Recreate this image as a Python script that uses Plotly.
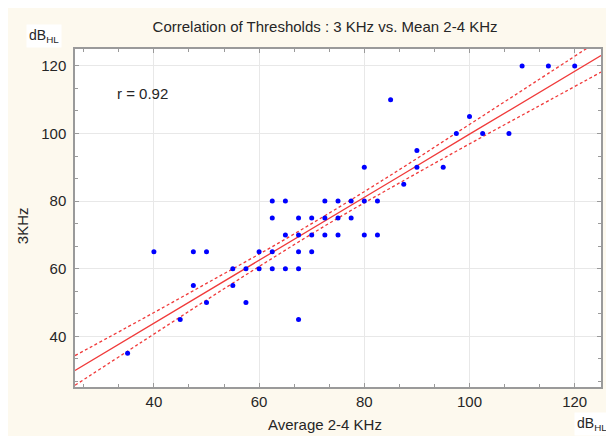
import plotly.graph_objects as go

# Data
avg_2_4khz = [35, 40, 45, 47.5, 47.5, 50, 50, 55, 55, 57.5, 57.5, 60, 60,
              62.5, 62.5, 62.5, 62.5, 65, 65, 65,
              67.5, 67.5, 67.5, 67.5, 67.5, 70, 70, 70,
              72.5, 72.5, 72.5, 75, 75, 75, 77.5, 77.5,
              80, 80, 80, 82.5, 82.5,
              85, 87.5, 90, 90, 95, 97.5, 100, 102.5, 107.5, 110, 115, 120]
thr_3khz = [35, 65, 45, 65, 55, 65, 50, 60, 55, 60, 50, 65, 60,
            80, 75, 65, 60, 80, 70, 60,
            75, 70, 65, 60, 45, 75, 70, 65,
            80, 75, 70, 80, 75, 70, 80, 75,
            90, 80, 70, 80, 70,
            110, 85, 95, 90, 90, 100, 105, 100, 100, 120, 120, 120]

# Regression line and 95% confidence band
fit_x = [25, 37.5, 50, 62.5, 75, 87.5, 100, 112.5, 125]
fit_y = [29.9, 41.5, 53.2, 64.8, 76.5, 88.1, 99.8, 111.4, 123.05]
band_half = [4.39, 3.38, 2.45, 1.72, 1.52, 2.02, 2.88, 3.86, 4.89]

x_ticks = [40, 60, 80, 100, 120]
y_ticks = [40, 60, 80, 100, 120]
axis_range = [25, 125]
r_label = "r = 0.92"

band_upper = [c + h for c, h in zip(fit_y, band_half)]
band_lower = [c - h for c, h in zip(fit_y, band_half)]

# page is offset by the 8px body margin
OFF = 8
W, H = 614 - OFF, 436 - OFF
L, R, T, B = 67, 11, 41, 49
pw, ph = W - L - R, H - T - B

def px(xp):
    return (xp - OFF - L) / pw

def py(yp):
    return (H - B - (yp - OFF)) / ph

FONT = "Liberation Sans, Arial, sans-serif"
CREAM = "#fdf9ee"
TXT = "#262626"
RED = "#f03a3a"

fig = go.Figure()
for band in (band_upper, band_lower):
    fig.add_trace(go.Scatter(x=fit_x, y=band, mode="lines",
                             line=dict(color=RED, width=1.3, dash="3px,2.5px",
                                       shape="spline", smoothing=1.0),
                             hoverinfo="skip", showlegend=False))
fig.add_trace(go.Scatter(x=fit_x, y=fit_y, mode="lines",
                         line=dict(color=RED, width=1.3),
                         hoverinfo="skip", showlegend=False))
fig.add_trace(go.Scatter(x=avg_2_4khz, y=thr_3khz, mode="markers",
                         marker=dict(color="#0000ff", size=5),
                         showlegend=False))

axis_common = dict(
    range=axis_range, showgrid=True, gridcolor="#e8e8e8", gridwidth=1,
    zeroline=False, showline=True, linecolor="#9a9a9a", linewidth=1.5,
    mirror="ticks", ticks="inside", ticklen=4, tickcolor="#9a9a9a",
    tick0=40, dtick=20,
    minor=dict(ticks="inside", ticklen=3, tickcolor="#9a9a9a", dtick=20 / 3,
               tick0=40, showgrid=False),
    tickfont=dict(family=FONT, size=15, color=TXT),
)
fig.update_xaxes(**axis_common, tickvals=x_ticks, ticklabelstandoff=0)
fig.update_yaxes(**axis_common, tickvals=y_ticks, ticklabelstandoff=4)

fig.update_layout(
    width=W, height=H,
    margin=dict(l=L, r=R, t=T, b=B),
    paper_bgcolor=CREAM, plot_bgcolor="white",
    title=dict(text="Correlation of Thresholds : 3 KHz vs. Mean 2-4 KHz",
               font=dict(family=FONT, size=15, color=TXT),
               xref="paper", x=px(326), xanchor="center",
               yref="container", y=1 - (27 - OFF) / H, yanchor="middle"),
    annotations=[
        dict(text=r_label, xref="x", yref="y", x=32.6, y=111.7, xanchor="left",
             yanchor="middle", showarrow=False,
             font=dict(family=FONT, size=15, color=TXT)),
        dict(text="dB<sub>HL</sub>", xref="paper", yref="paper", x=px(43.5), y=py(36),
             xanchor="center", yanchor="middle", showarrow=False, bgcolor="white",
             borderpad=2, font=dict(family=FONT, size=14, color=TXT)),
        dict(text="dB<sub>HL</sub>", xref="paper", yref="paper", x=px(594), y=py(424),
             xanchor="center", yanchor="middle", showarrow=False, bgcolor="white",
             borderpad=2, font=dict(family=FONT, size=14, color=TXT)),
        dict(text="3KHz", xref="paper", yref="paper", x=px(22), y=py(226),
             xanchor="center", yanchor="middle", showarrow=False, textangle=-90,
             font=dict(family=FONT, size=15, color=TXT)),
        dict(text="Average 2-4 KHz", xref="paper", yref="paper", x=px(326), y=py(425),
             xanchor="center", yanchor="middle", showarrow=False,
             font=dict(family=FONT, size=15, color=TXT)),
    ],
)

fig.write_html("out.html")
